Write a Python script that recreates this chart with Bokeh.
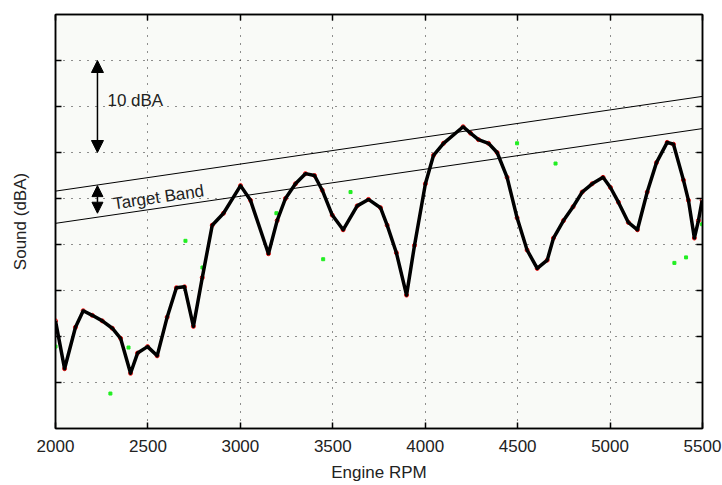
from bokeh.plotting import figure
from bokeh.models import (FixedTicker, LinearAxis, Range1d, Arrow, NormalHead,
                          Label, CustomJSTickFormatter, Grid)
from bokeh.embed import file_html
from bokeh.resources import INLINE

# ---------------- data ----------------
rpm = [2000, 2049, 2108, 2150, 2199, 2253, 2307, 2352, 2406, 2444, 2498, 2550, 2604, 2654, 2698,
       2746, 2794, 2848, 2909, 3001, 3055, 3152, 3199, 3244, 3298, 3352, 3401, 3443, 3497, 3556,
       3632, 3693, 3758, 3794, 3844, 3899, 3942, 4001, 4045, 4099, 4205, 4245, 4288, 4342, 4389,
       4443, 4497, 4551, 4606, 4660, 4694, 4748, 4800, 4849, 4903, 4962, 5002, 5045, 5099, 5148,
       5201, 5251, 5309, 5343, 5397, 5424, 5456, 5478, 5498]
sound = [61.7, 56.5, 61.0, 62.8, 62.3, 61.7, 60.9, 59.8, 56.0, 58.2, 58.9, 57.9, 62.1, 65.3, 65.4,
         61.1, 66.4, 72.1, 73.4, 76.4, 74.8, 69.0, 72.6, 75.0, 76.6, 77.7, 77.5, 75.9, 73.2, 71.6,
         74.2, 74.9, 74.0, 72.1, 69.1, 64.5, 69.9, 76.6, 79.7, 81.0, 82.8, 82.1, 81.4, 81.0, 80.0,
         77.3, 72.9, 69.4, 67.4, 68.3, 70.7, 72.6, 74.1, 75.7, 76.6, 77.3, 76.2, 74.6, 72.4, 71.6,
         75.7, 78.9, 81.1, 80.9, 77.0, 74.8, 70.7, 72.6, 74.8]

outlier_rpm = [2000, 2297, 2395, 2703, 2795, 3195, 3448, 3596, 4497, 4705, 5348, 5411, 5498]
outlier_sound = [58.9, 53.8, 58.8, 70.4, 67.5, 73.4, 68.4, 75.7, 81.0, 78.8, 68.0, 68.6, 72.2]

band_rpm = [2000, 5500]
band_upper = [75.8, 86.1]
band_lower = [72.3, 82.6]

x_ticks = [2000, 2500, 3000, 3500, 4000, 4500, 5000, 5500]
y_ticks = [55, 60, 65, 70, 75, 80, 85, 90]

ann_x = 2227
big_arrow = (90, 80)
small_arrow = (76.4, 73.4)
dba_label = (2281, 85.6, "10 dBA")
band_label = (2312, 74.4, "Target Band")

FONT = "Liberation Sans"
FS = "17px"

# ---------------- figure ----------------
p = figure(width=722, height=485, x_range=Range1d(2000, 5500), y_range=Range1d(50, 95),
           output_backend="svg", toolbar_location=None,
           x_axis_type=None, y_axis_type=None,
           min_border_left=55, min_border_right=20, min_border_top=14, min_border_bottom=57,
           background_fill_color="#f9faf7", border_fill_color="white")
p.outline_line_color = "black"
p.outline_line_width = 1.5

empty = CustomJSTickFormatter(code="return ''")


def style_axis(ax, labels=True):
    ax.axis_line_color = "black"
    ax.axis_line_width = 1.5
    ax.major_tick_line_color = "black"
    ax.major_tick_line_width = 1.5
    ax.major_tick_in = 6
    ax.major_tick_out = 0
    ax.minor_tick_line_color = None
    ax.major_label_text_font = FONT
    ax.major_label_text_font_size = FS
    ax.major_label_text_color = "#222222"
    ax.axis_label_text_font = FONT
    ax.axis_label_text_font_size = FS
    ax.axis_label_text_font_style = "normal"
    ax.axis_label_text_color = "#222222"
    if not labels:
        ax.formatter = empty
        ax.major_label_standoff = 0


xb = LinearAxis(ticker=FixedTicker(ticks=x_ticks), axis_label="Engine RPM")
style_axis(xb)
xb.major_label_standoff = 11
xb.axis_label_standoff = 8
p.add_layout(xb, "below")

xt = LinearAxis(ticker=FixedTicker(ticks=x_ticks))
style_axis(xt, labels=False)
p.add_layout(xt, "above")

yl = LinearAxis(ticker=FixedTicker(ticks=y_ticks), axis_label="Sound (dBA)")
style_axis(yl, labels=False)
yl.axis_label_standoff = 26
p.add_layout(yl, "left")

yr = LinearAxis(ticker=FixedTicker(ticks=y_ticks))
style_axis(yr, labels=False)
p.add_layout(yr, "right")

for dim, ticks in ((0, x_ticks[1:-1]), (1, y_ticks)):
    g = Grid(dimension=dim, ticker=FixedTicker(ticks=ticks),
             grid_line_color="#222222", grid_line_width=1, grid_line_dash="1 7")
    p.add_layout(g)

# target band
p.line(band_rpm, band_upper, line_color="black", line_width=1)
p.line(band_rpm, band_lower, line_color="black", line_width=1)

# scattered points
p.scatter(outlier_rpm, outlier_sound, marker="square", size=3,
          fill_color="#22ee22", line_color="#22ee22")
p.scatter(rpm, sound, marker="circle", size=4, fill_color=None,
          line_color="red", line_width=1)
p.line(rpm, sound, line_color="black", line_width=3.5, line_join="round")

# arrows
for (y0, y1), hs in ((big_arrow, 12), (small_arrow, 11)):
    p.add_layout(Arrow(x_start=ann_x, y_start=y0, x_end=ann_x, y_end=y1,
                       line_color="black", line_width=1.5,
                       start=NormalHead(size=hs, fill_color="black", line_color="black"),
                       end=NormalHead(size=hs, fill_color="black", line_color="black")))

p.add_layout(Label(x=dba_label[0], y=dba_label[1], text=dba_label[2],
                   text_font=FONT, text_font_size=FS, text_color="#222222",
                   text_baseline="middle"))
p.add_layout(Label(x=band_label[0], y=band_label[1], text=band_label[2],
                   text_font=FONT, text_font_size=FS, text_color="#222222",
                   text_baseline="alphabetic", angle=0.146))

open("out.html", "w").write(file_html(p, INLINE))
